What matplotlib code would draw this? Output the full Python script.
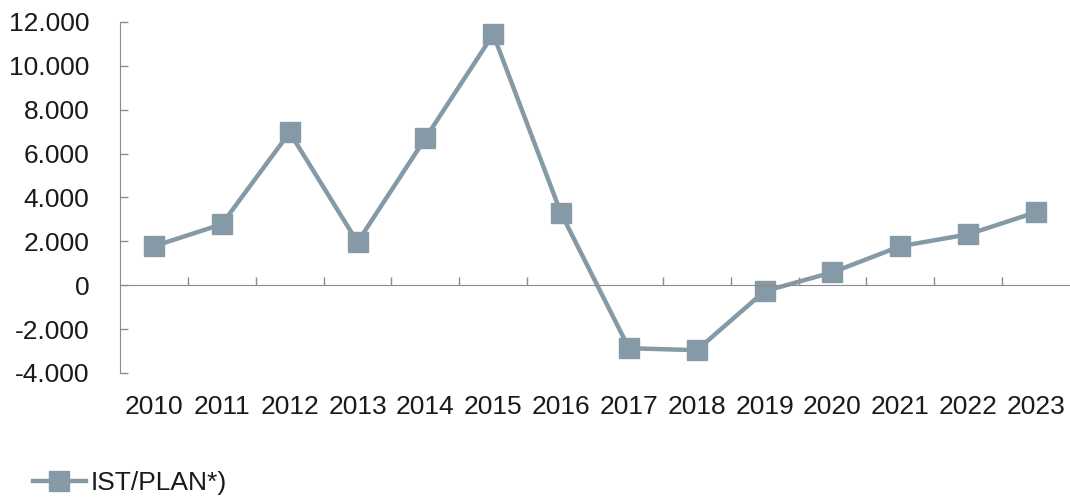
import matplotlib
matplotlib.use("Agg")
import matplotlib.pyplot as plt
from matplotlib.ticker import FixedLocator, FuncFormatter

years = ["2010", "2011", "2012", "2013", "2014", "2015", "2016",
         "2017", "2018", "2019", "2020", "2021", "2022", "2023"]
values = [1780, 2780, 6970, 1960, 6700, 11440, 3280,
          -2870, -2960, -270, 590, 1780, 2320, 3330]
series_name = "IST/PLAN*)"
yticks = [-4000, -2000, 0, 2000, 4000, 6000, 8000, 10000, 12000]

color = "#8699a6"
axis_color = "#8c8c8c"

plt.rcParams['font.family'] = ['Liberation Sans', 'DejaVu Sans']

fig = plt.figure(figsize=(10.70, 4.99), dpi=100)
ax = fig.add_axes([120/1070, 1-373/499, 950/1070, (373-22)/499])

x = list(range(len(years)))
ax.plot(x, values, color=color, linewidth=3.2, marker='s', markersize=15,
        markerfacecolor=color, markeredgecolor=color, label=series_name)

ax.set_xlim(-0.5, len(years) - 0.5)
ax.set_ylim(-4000, 12000)

# y axis
ax.yaxis.set_major_locator(FixedLocator(yticks))
ax.yaxis.set_major_formatter(FuncFormatter(lambda v, p: f"{int(v):,}".replace(",", ".")))
ax.tick_params(axis='y', direction='in', length=6, width=1, color=axis_color,
               labelsize=19, pad=22, labelcolor='#1a1a1a')

# x labels at bottom
ax.set_xticks(x)
ax.set_xticklabels(years)
ax.tick_params(axis='x', which='major', bottom=True, length=0, labelsize=19,
               pad=16, labelcolor='#1a1a1a')

# zero line with category-boundary ticks (use top spine at y=0)
ax.spines['bottom'].set_visible(False)
ax.spines['right'].set_visible(False)
ax.spines['top'].set_position(('data', 0))
ax.spines['top'].set_color(axis_color)
ax.spines['left'].set_color(axis_color)
ax.xaxis.set_minor_locator(FixedLocator([i + 0.5 for i in range(len(years) - 1)]))
ax.tick_params(axis='x', which='minor', top=True, bottom=False, direction='out',
               length=6, width=1, color=axis_color, labeltop=False)
ax.tick_params(axis='x', which='major', top=False)

fig.legend(loc='center left', bbox_to_anchor=(33/1070, 1-483/499), frameon=False,
           fontsize=19, handlelength=2.0, handletextpad=0.2, borderpad=0,
           borderaxespad=0, labelcolor='#1a1a1a')

fig.savefig("out.png", dpi=100)
